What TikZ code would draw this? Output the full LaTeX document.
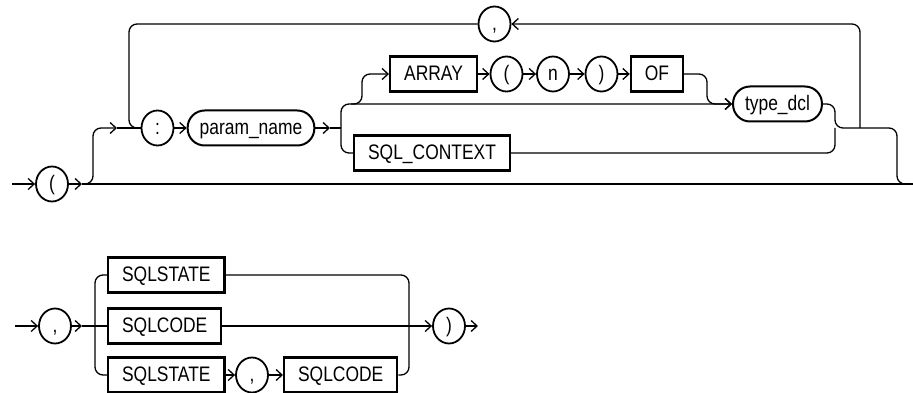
\documentclass[tikz,border=0pt]{standalone}
\usepackage{fontspec}
\setmainfont{Liberation Sans}[FakeStretch=0.83]
\usepackage{tikz}
\usetikzlibrary{arrows.meta,shapes.geometric}
\tikzstyle{rail} = [line width=1.3pt, rounded corners=8pt]
\tikzstyle{flecha} = [rail, -{Straight Barb[length=6pt,width=11pt]}]
\tikzstyle{palabra} = [draw, line width=2.2pt, rectangle, inner xsep=14pt, inner ysep=0pt, minimum height=35pt, text height=13pt, text depth=0pt, font=\fontsize{21}{25}\selectfont]
\tikzstyle{signo} = [draw, line width=1.8pt, ellipse, inner sep=0pt, minimum width=32pt, minimum height=35pt, text height=13pt, text depth=0pt, font=\fontsize{21}{25}\selectfont]
\tikzstyle{nombre} = [draw, line width=2pt, rectangle, rounded corners=17pt, inner xsep=12pt, inner ysep=0pt, minimum height=35pt, text height=13pt, text depth=0pt, font=\fontsize{21}{25}\selectfont]

\begin{document}
\begin{tikzpicture}[x=1pt,y=-1pt]
	\useasboundingbox (0,0) rectangle (913,393);
	% primera parte
	\node[signo](abre) at (52,184) {(};
	\node[signo](dospuntos) at (157.5,128) {:};
	\node[nombre](param) at (251,128) {param\_name};
	\node[palabra](array) at (433.5,74) {ARRAY};
	\node[signo](pabre) at (506.5,74) {(};
	\node[signo](ene) at (553,74) {n};
	\node[signo](pcierra) at (601.5,74) {)};
	\node[palabra](of) at (657,74) {OF};
	\node[nombre](tipo) at (777.5,104) {type\_dcl};
	\node[palabra, anchor=west](contexto) at (353,153) {SQL\_CONTEXT};
	\node[signo](coma) at (494.5,24) {,};
	\coordinate (inicio) at (12,184);
	\coordinate (s1) at (82,184);
	\coordinate (fin) at (913,184);
	\coordinate (c1) at (117,128);
	\coordinate (lazo) at (129,128);
	\coordinate (s2) at (330,128);
	\coordinate (ji) at (341,128);
	\coordinate (jd) at (835,128);
	\coordinate (vuelta) at (860,128);
	\draw[flecha] (inicio) -- (abre);
	\draw[flecha] (abre.east) -- (s1);
	\draw[rail] (s1) -- (fin);
	\draw[flecha] (s1) -- (93,184) -- (93,128) -- (c1);
	\draw[rail] (c1) -- (dospuntos);
	\draw[rail] (coma.west) -| (lazo) -- (dospuntos.west);
	\draw[flecha] (dospuntos) -- (param);
	\draw[flecha] (param.east) -- (s2);
	\draw[rail] (s2) -- (ji);
	\draw[flecha] (ji) |- (tipo.west);
	\draw[rail] (ji) |- (contexto.west);
	\draw[flecha] (351,104) -- (362,104) -- (362,74) -- (array.west);
	\draw[flecha] (array) -- (pabre);
	\draw[flecha] (pabre) -- (ene);
	\draw[flecha] (ene) -- (pcierra);
	\draw[flecha] (pcierra) -- (of);
	\draw[flecha] (of.east) -- (707,74) -- (707,104) -- (tipo.west);
	\draw[rail] (tipo.east) -| (jd) -- (897,128) |- (fin);
	\draw[rail] (contexto.east) -| (jd);
	\draw[flecha] (vuelta) |- (coma.east);
	% segunda parte
	\node[signo](coma2) at (55,326) {,};
	\node[palabra, anchor=west](estado) at (107,275) {SQLSTATE};
	\node[palabra, anchor=west](codigo) at (107,326) {SQLCODE};
	\node[palabra, anchor=west](estado2) at (107,375) {SQLSTATE};
	\node[signo](coma3) at (252,375) {,};
	\node[palabra, anchor=west](codigo2) at (283,375) {SQLCODE};
	\node[signo](cierra) at (449,326) {)};
	\coordinate (inicio2) at (15,326);
	\coordinate (s3) at (82,326);
	\coordinate (bi) at (95,326);
	\coordinate (bd) at (409,326);
	\coordinate (salida) at (478,326);
	\draw[flecha] (inicio2) -- (coma2);
	\draw[flecha] (coma2.east) -- (s3);
	\draw[rail] (s3) -- (codigo.west);
	\draw[rail] (bi) |- (estado.west);
	\draw[rail] (bi) |- (estado2.west);
	\draw[rail] (estado.east) -| (bd);
	\draw[rail] (codigo2.east) -| (bd);
	\draw[flecha] (codigo) -- (cierra);
	\draw[flecha] (estado2) -- (coma3);
	\draw[flecha] (coma3) -- (codigo2);
	\draw[flecha] (cierra.east) -- (salida);
\end{tikzpicture}
\end{document}
